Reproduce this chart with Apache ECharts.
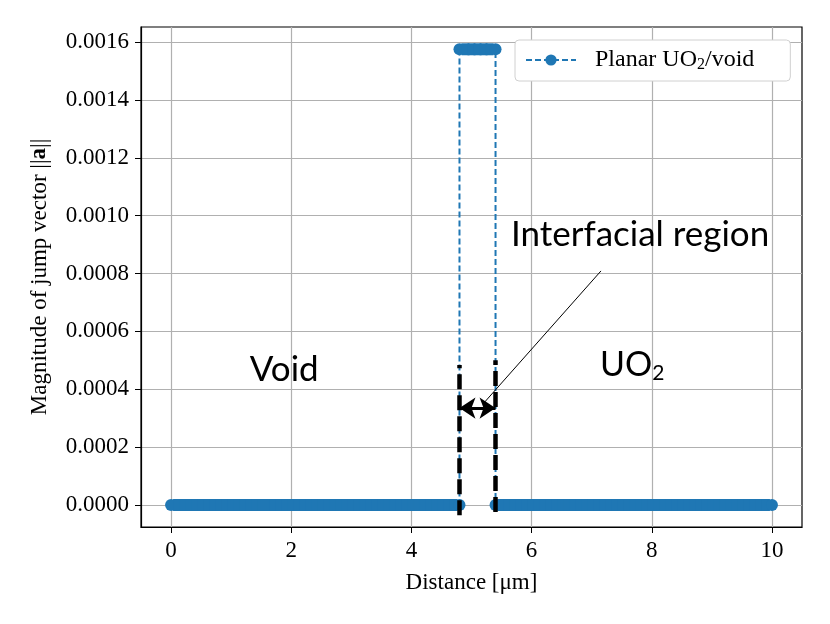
<!DOCTYPE html>
<html>
<head>
<meta charset="utf-8">
<script src="https://cdn.jsdelivr.net/npm/echarts@6/dist/echarts.min.js"></script>
<style>
html, body { margin: 0; padding: 0; background: #fff; }
#chart { width: 830px; height: 624px; }
</style>
</head>
<body>
<div id="chart"></div>
<script>
/*----- data -----*/
var distVoid = [0,0.1,0.2,0.3,0.4,0.5,0.6,0.7,0.8,0.9,1,1.1,1.2,1.3,1.4,1.5,1.6,1.7,1.8,1.9,2,2.1,2.2,2.3,2.4,2.5,2.6,2.7,2.8,2.9,3,3.1,3.2,3.3,3.4,3.5,3.6,3.7,3.8,3.9,4,4.1,4.2,4.3,4.4,4.5,4.6,4.7,4.8];
var jumpVoid = [0,0,0,0,0,0,0,0,0,0,0,0,0,0,0,0,0,0,0,0,0,0,0,0,0,0,0,0,0,0,0,0,0,0,0,0,0,0,0,0,0,0,0,0,0,0,0,0,0];
var distInterface = [4.8,4.9,5,5.1,5.2,5.3,5.4];
var jumpInterface = [0.001575,0.001575,0.001575,0.001575,0.001575,0.001575,0.001575];
var distUO2 = [5.4,5.5,5.6,5.7,5.8,5.9,6,6.1,6.2,6.3,6.4,6.5,6.6,6.7,6.8,6.9,7,7.1,7.2,7.3,7.4,7.5,7.6,7.7,7.8,7.9,8,8.1,8.2,8.3,8.4,8.5,8.6,8.7,8.8,8.9,9,9.1,9.2,9.3,9.4,9.5,9.6,9.7,9.8,9.9,10];
var jumpUO2 = [0,0,0,0,0,0,0,0,0,0,0,0,0,0,0,0,0,0,0,0,0,0,0,0,0,0,0,0,0,0,0,0,0,0,0,0,0,0,0,0,0,0,0,0,0,0,0];

var xTicks = [0, 2, 4, 6, 8, 10];
var yTicks = [0, 0.0002, 0.0004, 0.0006, 0.0008, 0.0010, 0.0012, 0.0014, 0.0016];

var SERIF = '"Liberation Serif", "DejaVu Serif", serif';
var SANS = 'Lato, "Noto Sans", sans-serif';
var BLUE = '#1f77b4';

/* markers are packed tightly so they read as one thick band; ends get round markers */
function zip(xs, ys){
	var out = [];
	for(var i = 0; i < xs.length; i++){
		var end = (i === 0 || i === xs.length - 1);
		out.push({
			value: [xs[i], ys[i]],
			symbol: end ? 'circle' : 'rect',
			symbolSize: end ? 12 : [8, 12]
		});
	}
	return out;
}
var lineData = zip(distVoid, jumpVoid).concat(zip(distInterface, jumpInterface), zip(distUO2, jumpUO2));

var chart = echarts.init(document.getElementById('chart'));
var option = {
	animation: false,
	grid: {
		left: 141, right: 28, top: 27, bottom: 97,
		show: true, borderColor: '#000', borderWidth: 1.2,
		containLabel: false
	},
	legend: {
		left: 515, top: 40,
		padding: [8, 36, 8, 10],
		backgroundColor: '#fff',
		borderColor: '#d0d0d0', borderWidth: 1, borderRadius: 4,
		itemWidth: 50, itemHeight: 14,
		formatter: 'Planar UO{sub|2}/void',
		textStyle: {
			fontFamily: SERIF, fontSize: 24, color: '#000', padding: [0, 0, 0, 14],
			rich: { sub: { fontFamily: SERIF, fontSize: 16, verticalAlign: 'bottom', padding: [10, 0, 0, 0] } }
		},
		data: ['Planar UO2/void']
	},
	xAxis: {
		type: 'value', min: -0.5, max: 10.5,
		name: 'Distance [\u03bcm]', nameLocation: 'middle', nameGap: 44,
		nameTextStyle: { fontFamily: SERIF, fontSize: 23, color: '#000' },
		axisLine: { show: true, onZero: false, lineStyle: { color: '#000', width: 1.2 } },
		axisTick: { show: true, length: 6, customValues: xTicks, lineStyle: { color: '#000' } },
		axisLabel: { customValues: xTicks, fontFamily: SERIF, fontSize: 23, color: '#000', margin: 12 },
		splitLine: { show: true, lineStyle: { color: '#b0b0b0', width: 1.2 } }
	},
	yAxis: {
		type: 'value', min: -0.000076, max: 0.001652,
		name: 'Magnitude of jump vector ||{b|a}||', nameLocation: 'middle', nameGap: 90,
		nameTextStyle: {
			fontFamily: SERIF, fontSize: 23, color: '#000',
			rich: { b: { fontFamily: SERIF, fontSize: 23, fontWeight: 'bold' } }
		},
		axisLine: { show: true, onZero: false, lineStyle: { color: '#000', width: 1.2 } },
		axisTick: { show: true, length: 6, customValues: yTicks, lineStyle: { color: '#000' } },
		axisLabel: {
			customValues: yTicks, fontFamily: SERIF, fontSize: 23, color: '#000', margin: 12,
			formatter: function(v){ return v.toFixed(4); }
		},
		splitLine: { show: true, lineStyle: { color: '#b0b0b0', width: 1.2 } }
	},
	series: [
		{
			name: 'Planar UO2/void',
			type: 'line',
			data: lineData,
			symbol: 'circle',
			symbolSize: 12,
			showAllSymbol: true,
			itemStyle: { color: BLUE, borderWidth: 0 },
			lineStyle: { color: BLUE, width: 2, type: [6, 3] },
			emphasis: { disabled: true },
			markLine: {
				silent: true,
				symbol: 'none',
				label: { show: false },
				animation: false,
				data: [
					[
						{ coord: [4.8, -0.000035], lineStyle: { color: '#000', width: 4.5, type: [15, 6] } },
						{ coord: [4.8, 0.000484] }
					],
					[
						{ coord: [5.4, -0.000024], lineStyle: { color: '#000', width: 4.5, type: [15, 6] } },
						{ coord: [5.4, 0.0005] }
					],
					[
						{ coord: [4.8, 0.000335], symbol: 'arrow', symbolSize: 16, lineStyle: { color: '#000', width: 3, type: 'solid' } },
						{ coord: [5.4, 0.000335], symbol: 'arrow', symbolSize: 16 }
					],
					[
						{ coord: [7.155, 0.000809], lineStyle: { color: '#000', width: 1, type: 'solid' } },
						{ coord: [5.22, 0.000356] }
					]
				]
			}
		}
	]
};
chart.setOption(option);

/*----- text annotations placed in data coordinates -----*/
function at(x, y){ return chart.convertToPixel({ gridIndex: 0 }, [x, y]); }
var pInter = at(5.657, 0.000933);
var pVoid = at(1.31, 0.000467);
var pUO2 = at(7.14, 0.000484);
chart.setOption({
	graphic: [
		{ type: 'text', x: pInter[0], y: pInter[1], style: { text: 'Interfacial region', fontFamily: SANS, fontSize: 35, fill: '#000', verticalAlign: 'middle' } },
		{ type: 'text', x: pVoid[0], y: pVoid[1], style: { text: 'Void', fontFamily: SANS, fontSize: 35, fill: '#000', verticalAlign: 'middle' } },
		{ type: 'text', x: pUO2[0], y: pUO2[1], style: {
			text: 'UO{s|2}', fontFamily: SANS, fontSize: 34, fill: '#000', verticalAlign: 'middle',
			rich: { s: { fontFamily: SANS, fontSize: 21, verticalAlign: 'bottom', padding: [16, 0, 0, 0] } }
		} }
	]
});
</script>
</body>
</html>
